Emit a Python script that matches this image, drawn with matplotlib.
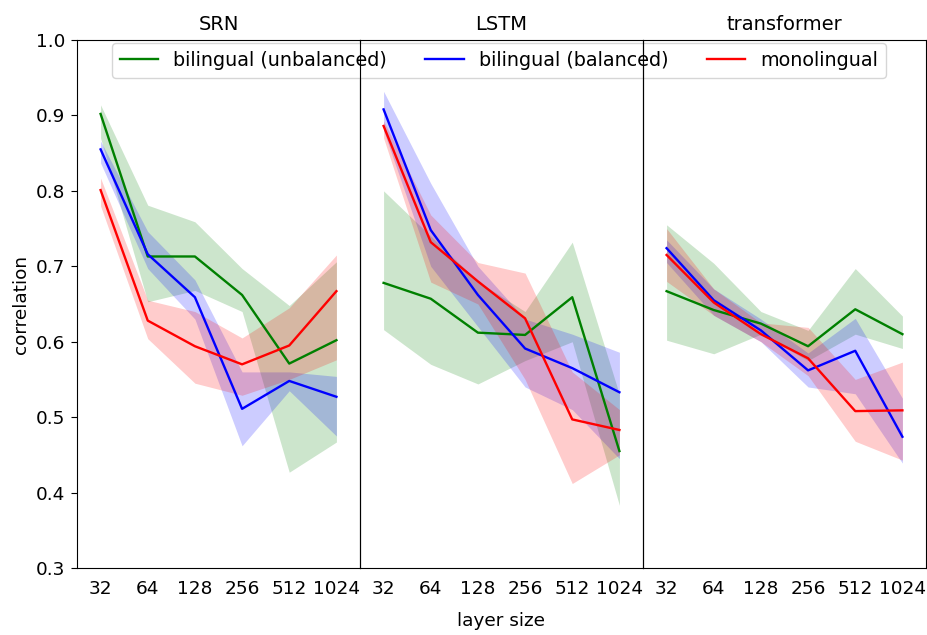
import matplotlib
matplotlib.use("Agg")
import matplotlib.pyplot as plt
import numpy as np

layer_sizes = ["32", "64", "128", "256", "512", "1024"]
models = ["SRN", "LSTM", "transformer"]
series = ["bilingual (unbalanced)", "bilingual (balanced)", "monolingual"]
colors = ["green", "blue", "red"]

# mean values per model, per series
srn_unbal = [0.902, 0.713, 0.713, 0.662, 0.571, 0.602]
srn_bal = [0.855, 0.716, 0.659, 0.511, 0.548, 0.527]
srn_mono = [0.801, 0.628, 0.594, 0.570, 0.595, 0.667]
lstm_unbal = [0.678, 0.657, 0.612, 0.609, 0.659, 0.455]
lstm_bal = [0.908, 0.748, 0.662, 0.591, 0.565, 0.533]
lstm_mono = [0.886, 0.732, 0.680, 0.631, 0.497, 0.483]
tr_unbal = [0.667, 0.642, 0.624, 0.594, 0.643, 0.610]
tr_bal = [0.724, 0.655, 0.615, 0.562, 0.588, 0.474]
tr_mono = [0.715, 0.652, 0.610, 0.578, 0.508, 0.509]

# confidence band lower/upper
srn_unbal_lo = [0.870, 0.653, 0.668, 0.640, 0.427, 0.467]
srn_unbal_hi = [0.914, 0.781, 0.759, 0.697, 0.648, 0.706]
srn_bal_lo = [0.837, 0.697, 0.630, 0.462, 0.535, 0.475]
srn_bal_hi = [0.866, 0.746, 0.682, 0.560, 0.560, 0.554]
srn_mono_lo = [0.780, 0.604, 0.545, 0.529, 0.550, 0.576]
srn_mono_hi = [0.817, 0.655, 0.640, 0.605, 0.645, 0.715]

lstm_unbal_lo = [0.616, 0.570, 0.544, 0.575, 0.600, 0.383]
lstm_unbal_hi = [0.800, 0.740, 0.680, 0.640, 0.732, 0.530]
lstm_bal_lo = [0.880, 0.700, 0.620, 0.540, 0.510, 0.445]
lstm_bal_hi = [0.932, 0.810, 0.700, 0.630, 0.610, 0.586]
lstm_mono_lo = [0.870, 0.679, 0.650, 0.550, 0.412, 0.450]
lstm_mono_hi = [0.893, 0.768, 0.705, 0.691, 0.560, 0.510]

tr_unbal_lo = [0.602, 0.584, 0.610, 0.575, 0.610, 0.591]
tr_unbal_hi = [0.755, 0.704, 0.640, 0.615, 0.697, 0.634]
tr_bal_lo = [0.705, 0.635, 0.600, 0.540, 0.531, 0.439]
tr_bal_hi = [0.735, 0.670, 0.630, 0.585, 0.631, 0.525]
tr_mono_lo = [0.680, 0.635, 0.600, 0.555, 0.468, 0.443]
tr_mono_hi = [0.750, 0.670, 0.625, 0.619, 0.550, 0.573]

data = {
    "SRN": [(srn_unbal, srn_unbal_lo, srn_unbal_hi),
            (srn_bal, srn_bal_lo, srn_bal_hi),
            (srn_mono, srn_mono_lo, srn_mono_hi)],
    "LSTM": [(lstm_unbal, lstm_unbal_lo, lstm_unbal_hi),
             (lstm_bal, lstm_bal_lo, lstm_bal_hi),
             (lstm_mono, lstm_mono_lo, lstm_mono_hi)],
    "transformer": [(tr_unbal, tr_unbal_lo, tr_unbal_hi),
                    (tr_bal, tr_bal_lo, tr_bal_hi),
                    (tr_mono, tr_mono_lo, tr_mono_hi)],
}

FS = 13.3
fig = plt.figure(figsize=(9.28, 6.35), dpi=100)
left, right = 77 / 928, 926 / 928
bottom, top = (635 - 568) / 635, (635 - 40) / 635
gs = fig.add_gridspec(1, 3, left=left, right=right, bottom=bottom, top=top, wspace=0)
axes = [fig.add_subplot(gs[0, i]) for i in range(3)]

x = np.arange(len(layer_sizes))
handles = []
for ax, m in zip(axes, models):
    for (mean, lo, hi), c, lab in zip(data[m], colors, series):
        ax.fill_between(x, lo, hi, color=c, alpha=0.2, linewidth=0)
        h, = ax.plot(x, mean, color=c, lw=1.7, label=lab)
        if m == "SRN":
            handles.append(h)
    ax.set_xlim(-0.5, 5.5)
    ax.set_ylim(0.3, 1.0)
    ax.set_xticks(x)
    ax.set_xticklabels(layer_sizes, fontsize=FS)
    ax.set_title(m, fontsize=14, pad=7)
    ax.tick_params(axis="x", length=0, pad=9)
    ax.tick_params(axis="y", labelsize=FS, length=4.5, pad=4)
    if ax is not axes[0]:
        ax.tick_params(axis="y", left=False, labelleft=False)
        ax.patch.set_visible(False)

axes[0].set_ylabel("correlation", fontsize=FS)
fig.text((left + right) / 2, 0.008, "layer size", ha="center", va="bottom", fontsize=FS)

axes[0].legend(handles=handles, labels=series, loc="upper center", ncol=3,
               bbox_to_anchor=(499 / 928, 1 - 43.3 / 635),
               bbox_transform=fig.transFigure, fontsize=13.75, frameon=True,
               borderaxespad=0)

fig.savefig("out.png", dpi=100)
